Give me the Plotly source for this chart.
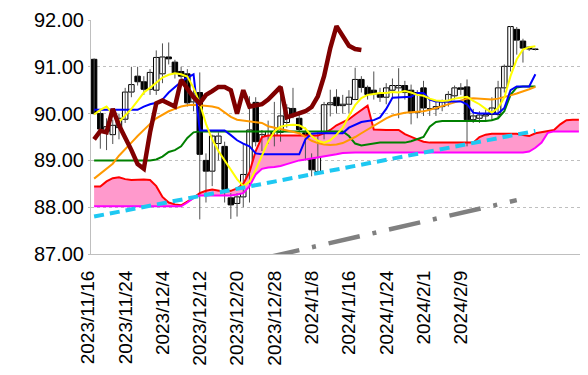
import plotly.graph_objects as go

# ---------------- data ----------------
tick_idx = [0, 6, 12, 18, 24, 30, 36, 42, 48, 54, 60]
tick_labels = ["2023/11/16", "2023/11/24", "2023/12/4", "2023/12/12", "2023/12/20",
               "2023/12/28", "2024/1/8", "2024/1/16", "2024/1/24", "2024/2/1", "2024/2/9"]
n_cat = 79

open_ = [91.16, 90.00, 89.62, 89.55, 89.70, 89.88, 90.46, 90.80, 90.68, 90.52,
         90.50, 90.85, 91.21, 91.10, 90.90, 90.85, 90.25, 90.45, 89.00, 88.77,
         89.36, 89.30, 88.20, 88.08, 88.22, 88.70, 90.24, 89.40, 89.45, 89.50,
         89.60, 89.81, 90.11, 89.90, 89.59, 89.05, 88.76, 89.55, 90.19, 90.35,
         90.17, 90.20, 90.30, 90.73, 90.56, 90.50, 90.42, 90.35, 90.50, 90.55,
         90.60, 90.50, 90.02, 90.55, 90.10, 90.10, 90.15, 90.25, 90.38, 90.55,
         90.57, 89.87, 89.90, 89.95, 89.98, 89.98, 90.55, 91.01, 91.80, 91.55,
         91.42, 91.38]
high_ = [91.18, 90.05, 89.90, 89.87, 90.00, 90.55, 91.00, 91.00, 90.80, 90.95,
         91.35, 91.50, 91.52, 91.15, 91.00, 90.95, 90.50, 90.88, 89.15, 89.55,
         89.60, 89.40, 88.30, 88.30, 89.35, 90.37, 90.35, 89.65, 89.85, 90.25,
         90.60, 90.20, 90.55, 90.00, 89.70, 89.15, 89.60, 90.25, 90.51, 90.52,
         90.40, 90.50, 90.98, 90.80, 90.60, 90.90, 90.55, 90.65, 90.75, 90.97,
         90.70, 90.62, 90.50, 90.70, 90.30, 90.25, 90.30, 90.48, 90.60, 90.65,
         90.73, 90.10, 90.05, 90.10, 90.35, 90.70, 91.05, 91.87, 91.85, 91.60,
         91.44, 91.39]
low_ = [89.98, 89.25, 89.22, 89.35, 89.45, 89.80, 90.35, 90.60, 90.40, 90.40,
        90.40, 90.65, 91.05, 90.75, 90.70, 90.15, 90.05, 87.74, 88.10, 88.45,
        89.00, 88.10, 87.75, 87.80, 88.00, 88.10, 89.30, 89.20, 89.35, 89.30,
        89.40, 89.70, 89.90, 89.55, 89.00, 88.66, 88.70, 89.45, 89.94, 90.00,
        90.00, 90.00, 90.30, 90.45, 90.30, 90.30, 90.25, 90.20, 90.35, 89.90,
        90.30, 89.77, 89.90, 89.95, 89.95, 89.95, 90.05, 90.15, 90.30, 90.40,
        89.30, 89.80, 89.80, 89.82, 89.85, 89.90, 90.45, 90.90, 91.26, 91.09,
        91.34, 91.35]
close_ = [90.00, 89.67, 89.72, 89.75, 89.90, 90.46, 90.62, 90.68, 90.52, 90.88,
          91.20, 91.21, 91.17, 90.87, 90.80, 90.23, 90.42, 89.13, 88.77, 89.52,
          89.52, 88.38, 88.05, 88.22, 88.70, 89.65, 89.40, 89.55, 89.62, 89.62,
          89.95, 90.12, 89.98, 89.66, 89.12, 88.80, 89.50, 90.19, 90.23, 90.17,
          90.20, 90.35, 90.73, 90.56, 90.41, 90.42, 90.35, 90.55, 90.60, 90.60,
          90.45, 90.02, 90.45, 90.12, 90.10, 90.15, 90.25, 90.41, 90.55, 90.52,
          89.87, 89.95, 89.97, 89.98, 90.12, 90.55, 91.01, 91.86, 91.57, 91.40,
          91.38, 91.37]

line_yellow = [89.98, 90.08, 90.15, 90.00, 89.82, 89.95, 90.10, 90.27, 90.45, 90.55,
               90.67, 90.77, 90.83, 90.86, 90.84, 90.79, 90.55, 90.22, 89.78, 89.45,
               89.20, 89.00, 88.78, 88.60, 88.45, 88.55, 88.80, 89.10, 89.40, 89.62,
               89.72, 89.75, 89.76, 89.75, 89.68, 89.52, 89.42, 89.38, 89.43, 89.55,
               89.70, 89.95, 90.18, 90.33, 90.40, 90.42, 90.44, 90.44, 90.46, 90.45,
               90.48, 90.45, 90.40, 90.38, 90.32, 90.28, 90.27, 90.28, 90.32, 90.34,
               90.36, 90.27, 90.20, 90.10, 90.02, 90.12, 90.34, 90.80, 91.16, 91.37,
               91.42, 91.44]
line_blue = [90.08, 90.08, 90.08, 90.08, 90.08, 90.08, 90.08, 90.08, 90.15, 90.20,
             90.23, 90.30, 90.45, 90.57, 90.68, 90.77, 90.84, 89.64, 89.64, 89.64,
             89.64, 89.64, 89.54, 89.43, 89.36, 89.30, 89.15, 89.13, 89.13, 89.13,
             89.13, 89.13, 89.13, 89.13, 89.45, 89.57, 89.58, 89.58, 89.58, 89.58,
             89.58, 89.70, 89.76, 89.82, 89.84, 89.86, 89.92, 90.10, 90.34, 90.35,
             90.35, 90.36, 90.44, 90.44, 90.30, 90.26, 90.26, 90.26, 90.26, 90.26,
             90.20, 90.02, 90.00, 90.00, 90.00, 90.00, 90.12, 90.50, 90.58, 90.58,
             90.58, 90.84]
line_green = [89.00, 89.00, 89.00, 89.00, 89.00, 89.00, 89.00, 89.00, 89.00, 89.00,
              89.02, 89.08, 89.18, 89.22, 89.30, 89.48, 89.60, 89.62, 89.62, 89.62,
              89.62, 89.62, 89.62, 89.62, 89.62, 89.62, 89.62, 89.62, 89.62, 89.62,
              89.62, 89.62, 89.62, 89.62, 89.62, 89.62, 89.62, 89.62, 89.62, 89.62,
              89.62, 89.52, 89.36, 89.32, 89.34, 89.37, 89.38, 89.38, 89.38, 89.38,
              89.38, 89.41, 89.46, 89.50, 89.72, 89.82, 89.84, 89.84, 89.84, 89.84,
              89.84, 89.84, 89.84, 89.84, 89.86, 89.90, 90.05, 90.40, 90.56, 90.58,
              90.58, 90.58]
line_orange = [88.61, 88.72, 88.83, 88.93, 89.10, 89.25, 89.38, 89.52, 89.66, 89.78,
               89.90, 89.98, 90.05, 90.10, 90.15, 90.18, 90.19, 90.18, 90.17, 90.15,
               90.12, 90.03, 89.93, 89.87, 89.85, 89.83, 89.82, 89.80, 89.73, 89.70,
               89.67, 89.64, 89.61, 89.58, 89.50, 89.42, 89.37, 89.34, 89.33, 89.34,
               89.37, 89.43, 89.50, 89.58, 89.66, 89.74, 89.82, 89.90, 89.96, 89.99,
               90.02, 90.03, 90.04, 90.05, 90.08, 90.12, 90.15, 90.19, 90.23, 90.27,
               90.32, 90.33, 90.32, 90.31, 90.30, 90.32, 90.35, 90.39, 90.43, 90.47,
               90.52, 90.57]
span_a = [88.44, 88.44, 88.55, 88.62, 88.64, 88.60, 88.58, 88.59, 88.59, 88.58,
          88.45, 88.22, 88.10, 88.06, 88.04, 88.12, 88.20, 88.30, 88.35, 88.38,
          88.36, 88.33, 88.35, 88.40, 88.50, 88.75, 89.20, 89.50, 89.53, 89.53,
          89.53, 89.53, 89.53, 89.53, 89.53, 89.53, 89.53, 89.58, 89.65, 89.75,
          89.82, 89.88, 89.98, 90.08, 90.17, 89.66, 89.65, 89.65, 89.65, 89.65,
          89.56, 89.50, 89.45, 89.40, 89.38, 89.38, 89.38, 89.38, 89.38, 89.38,
          89.38, 89.38, 89.50, 89.55, 89.57, 89.57, 89.57, 89.57, 89.57, 89.54,
          89.52, 89.58, 89.60, 89.62, 89.65, 89.77, 89.86, 89.87, 89.87]
span_b = [88.02, 88.02, 88.02, 88.02, 88.02, 88.02, 88.02, 88.02, 88.02, 88.02,
          88.02, 88.02, 88.02, 88.02, 88.02, 88.10, 88.20, 88.25, 88.25, 88.25,
          88.25, 88.25, 88.25, 88.27, 88.30, 88.45, 88.70, 88.82, 88.85, 88.86,
          88.88, 88.92, 88.96, 89.00, 89.02, 89.04, 89.06, 89.08, 89.10, 89.13,
          89.16, 89.17, 89.17, 89.17, 89.17, 89.17, 89.17, 89.17, 89.17, 89.17,
          89.17, 89.17, 89.17, 89.17, 89.17, 89.17, 89.17, 89.17, 89.17, 89.17,
          89.17, 89.17, 89.17, 89.17, 89.17, 89.17, 89.17, 89.17, 89.17, 89.17,
          89.19, 89.27, 89.38, 89.59, 89.62, 89.62, 89.62, 89.62, 89.62]
chikou = [89.45, 89.63, 89.60, 90.10, 89.75, 89.50, 89.22, 88.92, 88.82, 89.60,
          90.22, 90.28, 90.22, 90.15, 90.72, 90.55, 90.35, 90.22, 90.40, 90.48,
          90.57, 90.57, 90.50, 90.00, 90.50, 90.15, 90.18, 90.20, 90.30, 90.45,
          90.57, 89.92, 89.96, 90.00, 90.05, 90.14, 90.37, 90.80, 91.40, 91.87,
          91.65, 91.45, 91.38, 91.36]
trend_support_x = [0, 71]
trend_support_y = [87.80, 89.63]
trend_lower_x = [28, 68]
trend_lower_y = [86.93, 88.15]

# ---------------- figure ----------------
n = len(close_)
idx = list(range(n))
fig = go.Figure()

# cloud fill
fig.add_trace(go.Scatter(x=list(range(len(span_b))), y=span_b, mode="lines",
                         line=dict(width=0, color="#FF00FF"), hoverinfo="skip"))
fig.add_trace(go.Scatter(x=list(range(len(span_a))), y=span_a, mode="lines",
                         line=dict(width=0, color="#FF0000"), fill="tonexty",
                         fillcolor="#FF99CC", hoverinfo="skip"))

# wicks
wx, wy = [], []
for i in idx:
    wx += [i, i, None]
    wy += [low_[i], high_[i], None]
fig.add_trace(go.Scatter(x=wx, y=wy, mode="lines", line=dict(color="#505050", width=1)))

# bodies
for up in (True, False):
    xs = [i for i in idx if (close_[i] >= open_[i]) == up]
    base = [min(open_[i], close_[i]) for i in xs]
    hgt = [max(abs(close_[i] - open_[i]), 0.004) for i in xs]
    fig.add_trace(go.Bar(x=xs, y=hgt, base=base, width=0.88,
                         marker=dict(color="#FFFFFF" if up else "#000000",
                                     line=dict(color="#000000", width=1))))

def line(y, color, width, dash=None, x=None):
    fig.add_trace(go.Scatter(x=x if x is not None else list(range(len(y))), y=y,
                             mode="lines", line=dict(color=color, width=width, dash=dash)))

line(span_a, "#FF0000", 2)
line(span_b, "#FF00FF", 2)
line(line_green, "#008000", 2)
line(line_orange, "#FF9900", 2)
line(line_blue, "#0000FF", 2)
line(line_yellow, "#FFFF00", 2)
line(chikou, "#800000", 4.5)
line(trend_support_y, "#1EC8F2", 4, dash="10px,6px", x=trend_support_x)
line(trend_lower_y, "#808080", 4.5, dash="32px,13px,4px,13px", x=trend_lower_x)

# page body has an 8px margin, so the figure is sized to the remaining window
fig.update_layout(
    width=580, height=367,
    margin=dict(l=83, r=6, t=12, b=121),
    paper_bgcolor="white", plot_bgcolor="white",
    showlegend=False, barmode="overlay",
    font=dict(family="Liberation Sans, Arial, sans-serif", color="#000000"),
)
fig.update_xaxes(range=[-0.5, n_cat - 0.5], tickmode="array", tickvals=tick_idx,
                 ticktext=tick_labels, tickangle=-90, tickfont=dict(size=19),
                 ticklabelshift=-6, ticklabelstandoff=8, automargin=False,
                 showgrid=False, showline=True, linecolor="#BFBFBF", linewidth=1,
                 ticks="", zeroline=False)
fig.update_yaxes(range=[87, 92], dtick=1, tick0=87, tickformat=".2f",
                 tickfont=dict(size=20), automargin=False,
                 showgrid=True, gridcolor="#BFBFBF",
                 griddash="dot", gridwidth=1, showline=True, linecolor="#BFBFBF",
                 linewidth=1, ticks="outside", ticklen=2, tickcolor="#BFBFBF",
                 zeroline=False)

fig.write_html("out.html")
